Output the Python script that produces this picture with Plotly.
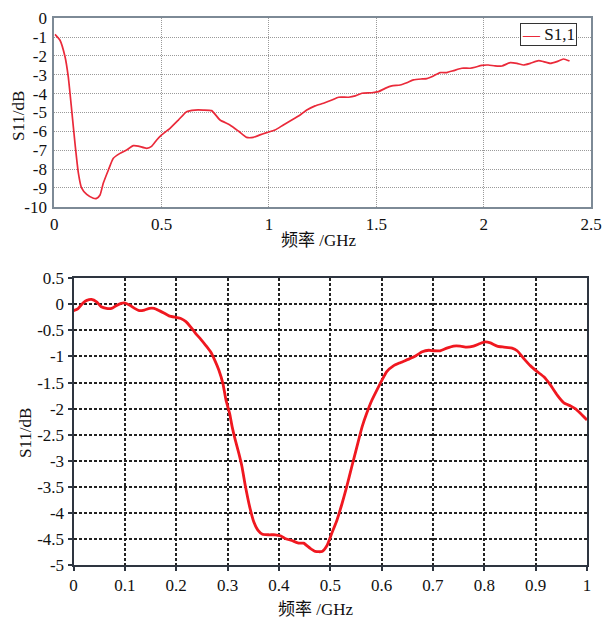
import plotly.graph_objects as go

W, H = 602, 623

# ---- Top chart data (frequency GHz, S11 dB) ----
top_freq = [0.003, 0.026, 0.05, 0.065, 0.081, 0.096, 0.112, 0.127, 0.151, 0.182, 0.197, 0.213,
            0.228, 0.252, 0.275, 0.306, 0.337, 0.368, 0.391, 0.43, 0.453, 0.477, 0.5, 0.539,
            0.578, 0.616, 0.655, 0.694, 0.733, 0.772, 0.818, 0.857, 0.896, 0.927, 0.958, 0.989,
            1.028, 1.067, 1.106, 1.145, 1.176, 1.215, 1.254, 1.293, 1.324, 1.371, 1.402, 1.433,
            1.479, 1.51, 1.541, 1.572, 1.611, 1.642, 1.673, 1.712, 1.735, 1.766, 1.797, 1.828,
            1.859, 1.898, 1.937, 1.96, 1.991, 2.022, 2.053, 2.085, 2.124, 2.155, 2.186, 2.217,
            2.256, 2.279, 2.31, 2.341, 2.372, 2.4]
top_s11 = [-0.85, -1.15, -2.04, -3.1, -4.87, -6.6, -8.2, -9.0, -9.35, -9.55, -9.56, -9.38,
           -8.76, -8.05, -7.43, -7.17, -6.99, -6.76, -6.78, -6.9, -6.8, -6.46, -6.19, -5.84,
           -5.4, -4.96, -4.87, -4.87, -4.9, -5.4, -5.66, -5.98, -6.32, -6.32, -6.19, -6.07,
           -5.93, -5.66, -5.4, -5.13, -4.87, -4.65, -4.51, -4.34, -4.19, -4.19, -4.12, -3.98,
           -3.95, -3.89, -3.72, -3.59, -3.54, -3.42, -3.27, -3.22, -3.2, -3.06, -2.88, -2.88,
           -2.78, -2.65, -2.65, -2.6, -2.5, -2.48, -2.53, -2.53, -2.35, -2.39, -2.48, -2.39,
           -2.25, -2.3, -2.39, -2.3, -2.16, -2.27]
top_series_name = "S1,1"

# ---- Bottom chart data ----
bot_freq = [0.0, 0.009, 0.019, 0.026, 0.035, 0.045, 0.054, 0.064, 0.074, 0.083, 0.093, 0.099,
            0.109, 0.119, 0.128, 0.138, 0.148, 0.157, 0.167, 0.177, 0.186, 0.199, 0.209, 0.219,
            0.228, 0.238, 0.248, 0.257, 0.267, 0.275, 0.283, 0.291, 0.297, 0.304, 0.309, 0.315,
            0.322, 0.328, 0.335, 0.343, 0.351, 0.359, 0.368, 0.38, 0.393, 0.403, 0.412, 0.425,
            0.438, 0.448, 0.461, 0.471, 0.484, 0.494, 0.503, 0.513, 0.523, 0.532, 0.542, 0.552,
            0.562, 0.571, 0.581, 0.591, 0.601, 0.61, 0.623, 0.636, 0.653, 0.666, 0.679, 0.692,
            0.701, 0.714, 0.727, 0.74, 0.753, 0.766, 0.779, 0.792, 0.802, 0.812, 0.825, 0.838,
            0.854, 0.864, 0.877, 0.89, 0.903, 0.916, 0.929, 0.942, 0.955, 0.968, 0.977, 0.987, 1.0]
bot_s11 = [-0.12, -0.08, 0.03, 0.077, 0.096, 0.05, -0.045, -0.077, -0.077, -0.026, 0.02, 0.03,
           -0.013, -0.077, -0.12, -0.11, -0.077, -0.077, -0.12, -0.17, -0.22, -0.25, -0.27, -0.33,
           -0.43, -0.56, -0.67, -0.78, -0.91, -1.07, -1.26, -1.52, -1.84, -2.09, -2.35, -2.6,
           -2.86, -3.11, -3.5, -3.88, -4.17, -4.33, -4.41, -4.42, -4.42, -4.44, -4.49, -4.53,
           -4.58, -4.58, -4.68, -4.74, -4.74, -4.62, -4.39, -4.14, -3.82, -3.5, -3.11, -2.73,
           -2.35, -2.09, -1.84, -1.64, -1.45, -1.29, -1.18, -1.12, -1.05, -0.99, -0.91, -0.88,
           -0.89, -0.89, -0.84, -0.8, -0.8, -0.82, -0.8, -0.75, -0.72, -0.74, -0.8, -0.82,
           -0.84, -0.89, -1.04, -1.18, -1.29, -1.39, -1.55, -1.74, -1.89, -1.95, -2.0, -2.09, -2.22]

top_xticks = [0, 0.5, 1, 1.5, 2, 2.5]
top_xticklabels = ["0", "0.5", "1", "1.5", "2", "2.5"]
top_yticks = list(range(0, -11, -1))
bot_xticks = [0, 0.1, 0.2, 0.3, 0.4, 0.5, 0.6, 0.7, 0.8, 0.9, 1]
bot_xticklabels = ["0", "0.1", "0.2", "0.3", "0.4", "0.5", "0.6", "0.7", "0.8", "0.9", "1"]
bot_yticks = [0.5, 0, -0.5, -1, -1.5, -2, -2.5, -3, -3.5, -4, -4.5, -5]
bot_yticklabels = ["0.5", "0", "-0.5", "-1", "-1.5", "-2", "-2.5", "-3", "-3.5", "-4", "-4.5", "-5"]

FONT = "'Liberation Serif', 'Times New Roman', 'Noto Sans CJK SC', serif"
TOP_RED = "#ea2a3a"
BOT_RED = "#f01820"


def px_x(p):
    return p / W


def px_y(p):
    return 1 - p / H


fig = go.Figure()
fig.add_trace(go.Scatter(x=top_freq, y=top_s11, mode="lines", name=top_series_name,
                         line=dict(color=TOP_RED, width=1.7, shape="spline", smoothing=0.5),
                         xaxis="x", yaxis="y", showlegend=False))
fig.add_trace(go.Scatter(x=bot_freq, y=bot_s11, mode="lines", name="bottom",
                         line=dict(color=BOT_RED, width=2.8, shape="spline", smoothing=0.5),
                         xaxis="x2", yaxis="y2", showlegend=False))

tick_font = dict(family=FONT, size=17, color="#111")
title_font = dict(family=FONT, size=17, color="#111")
TOP_FRAME = "#7d8a96"
BOT_FRAME = "#2e3540"

fig.update_layout(
    width=W, height=H,
    margin=dict(l=0, r=0, t=0, b=0),
    paper_bgcolor="white", plot_bgcolor="white",
    font=dict(family=FONT, size=17, color="#111"),
    xaxis=dict(domain=[px_x(54.3), px_x(591)], range=[0, 2.5], tickvals=top_xticks,
               ticktext=top_xticklabels,
               showgrid=True, gridcolor="#9a9a9a", gridwidth=1, griddash="1px,1px",
               showline=True, linecolor=TOP_FRAME, linewidth=2, mirror=True,
               ticks="", ticklabelstandoff=1,
               zeroline=False, tickfont=tick_font, anchor="y", automargin=False),
    yaxis=dict(domain=[px_y(206.7), px_y(18.3)], range=[-10, 0], tickvals=top_yticks,
               ticktext=[str(v) for v in top_yticks],
               showgrid=True, gridcolor="#9a9a9a", gridwidth=1, griddash="1px,1px",
               showline=True, linecolor=TOP_FRAME, linewidth=2, mirror=True,
               ticks="", ticklabelstandoff=2,
               zeroline=False, tickfont=tick_font, anchor="x", automargin=False),
    xaxis2=dict(domain=[px_x(73.5), px_x(587)], range=[0, 1], tickvals=bot_xticks,
                ticktext=bot_xticklabels,
                showgrid=True, gridcolor="#222", gridwidth=1.5, griddash="3px,2px",
                showline=True, linecolor=BOT_FRAME, linewidth=2, mirror=True,
                ticks="outside", ticklen=4, tickcolor=BOT_FRAME, tickwidth=1.5,
                zeroline=False, tickfont=tick_font, anchor="y2", automargin=False),
    yaxis2=dict(domain=[px_y(565), px_y(278.3)], range=[-5, 0.5], tickvals=bot_yticks,
                ticktext=bot_yticklabels,
                showgrid=True, gridcolor="#222", gridwidth=1.5, griddash="3px,2px",
                showline=True, linecolor=BOT_FRAME, linewidth=2, mirror=True,
                ticks="outside", ticklen=4, tickcolor=BOT_FRAME, tickwidth=1.5,
                zeroline=False, tickfont=tick_font, anchor="x2", automargin=False),
    showlegend=False,
)

annotations = [
    # compact legend box for the top chart
    dict(text=f"<span style='color:{TOP_RED}'>—</span> {top_series_name}",
         x=px_x(577), y=px_y(23), xref="paper", yref="paper",
         xanchor="right", yanchor="top", showarrow=False, font=title_font,
         bordercolor="#333", borderwidth=1, borderpad=1, bgcolor="white"),
    dict(text="频率 /GHz", x=px_x(319), y=px_y(240), xref="paper", yref="paper",
         xanchor="center", yanchor="middle", showarrow=False, font=title_font),
    dict(text="S11/dB", x=px_x(19), y=px_y(116), xref="paper", yref="paper",
         xanchor="center", yanchor="middle",
         showarrow=False, textangle=-90, font=title_font),
    dict(text="频率 /GHz", x=px_x(316), y=px_y(609), xref="paper", yref="paper",
         xanchor="center", yanchor="middle", showarrow=False, font=title_font),
    dict(text="S11/dB", x=px_x(25), y=px_y(433), xref="paper", yref="paper",
         xanchor="center", yanchor="middle",
         showarrow=False, textangle=-90, font=title_font),
]
fig.update_layout(annotations=annotations)

# Remove the default 8px page margin so the 602x623 figure fills the window exactly.
fig.write_html("out.html", config={"displayModeBar": False},
               post_script="document.body.style.margin='0px';")
